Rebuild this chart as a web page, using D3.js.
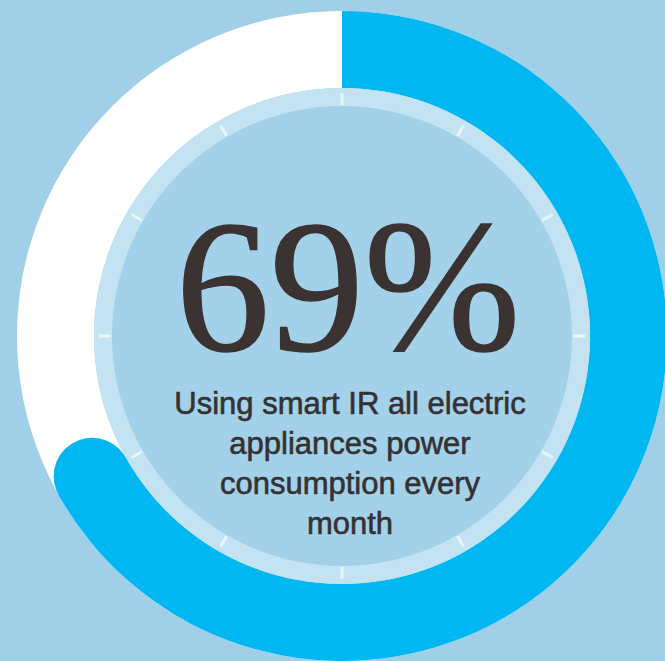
<!DOCTYPE html>
<html>
<head>
<meta charset="utf-8">
<script src="https://cdn.jsdelivr.net/npm/d3@7"></script>
<style>
  html, body { margin: 0; padding: 0; background: #a0cfe7; }
  svg { display: block; }
</style>
</head>
<body>
<div id="chart"></div>
<script>
// the one value shown by the gauge, in percent
var percent = [69];
var percentLabel = ["69%"];
var captionLines = ["Using smart IR all electric", "appliances power", "consumption every", "month"];
// dial ticks round the inner disc, degrees from 12 o'clock
var tickAngles = [0, 30, 60, 90, 120, 150, 180, 210, 240, 270, 300, 330];

var width = 665, height = 661;
var cx = 342, cy = 336;
var outerR = 325, innerR = 248;
var bandR = 230;
var capR = (outerR - innerR) / 2;
var midR = (outerR + innerR) / 2;

var svg = d3.select("#chart")
    .append("svg")
    .attr("width", width)
    .attr("height", height);

svg.append("rect")
    .attr("width", width)
    .attr("height", height)
    .attr("fill", "#a0cfe7");

var g = svg.append("g").attr("transform", "translate(" + cx + "," + cy + ")");

// percent -> angle
var angle = d3.scaleLinear().domain([0, 100]).range([0, 2 * Math.PI]);

var ring = d3.arc().innerRadius(innerR).outerRadius(outerR);

// white track
g.append("path")
    .attr("d", ring({ startAngle: 0, endAngle: 2 * Math.PI }))
    .attr("fill", "#ffffff");

// blue value arc, the round cap counts inside the value
var endA = angle(percent[0]) - capR / midR;
g.append("path")
    .attr("d", ring({ startAngle: 0, endAngle: endA }))
    .attr("fill", "#00b7f1");

g.append("circle")
    .attr("cx", midR * Math.sin(endA))
    .attr("cy", -midR * Math.cos(endA))
    .attr("r", capR)
    .attr("fill", "#00b7f1");

// pale band round the inner disc
g.append("circle")
    .attr("r", innerR)
    .attr("fill", "#c3e3f3");

g.append("circle")
    .attr("r", bandR)
    .attr("fill", "#a2d1e9");

// ticks
g.selectAll(".tick")
    .data(tickAngles)
    .enter().append("line")
    .attr("class", "tick")
    .attr("x1", function(d) { return (bandR + 1) * Math.sin(d * Math.PI / 180); })
    .attr("y1", function(d) { return -(bandR + 1) * Math.cos(d * Math.PI / 180); })
    .attr("x2", function(d) { return (bandR + 13) * Math.sin(d * Math.PI / 180); })
    .attr("y2", function(d) { return -(bandR + 13) * Math.cos(d * Math.PI / 180); })
    .attr("stroke", "#eef8fc")
    .attr("stroke-width", 3)
    .attr("stroke-opacity", 0.85);

// big number
svg.append("text")
    .attr("x", 348)
    .attr("y", 350)
    .attr("text-anchor", "middle")
    .attr("font-family", "'Times New Roman', 'Liberation Serif', Times, serif")
    .attr("font-size", 188)
    .attr("fill", "#3a3332")
    .attr("stroke", "#3a3332")
    .attr("stroke-width", 1.5)
    .text(percentLabel[0]);

// caption
svg.selectAll(".caption")
    .data(captionLines)
    .enter().append("text")
    .attr("class", "caption")
    .attr("x", 350)
    .attr("y", function(d, i) { return 414 + i * 40; })
    .attr("text-anchor", "middle")
    .attr("font-family", "Arial, 'Liberation Sans', Helvetica, sans-serif")
    .attr("font-size", 31)
    .attr("fill", "#363131")
    .attr("stroke", "#363131")
    .attr("stroke-width", 0.6)
    .text(function(d) { return d; });
</script>
</body>
</html>
